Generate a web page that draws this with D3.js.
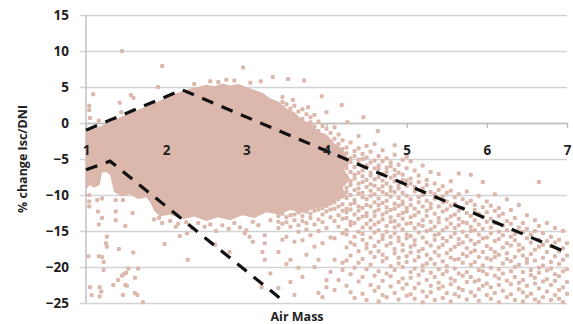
<!DOCTYPE html>
<html>
<head>
<meta charset="utf-8">
<script src="https://cdn.jsdelivr.net/npm/d3@7"></script>
<style>
  body { margin: 0; background: #fff; }
  svg { display: block; }
  text { font-family: "Open Sans", sans-serif; font-weight: 700; fill: #222; }
</style>
</head>
<body>
<div id="chart"></div>
<script>
// axis ticks
const xTicks = [1, 2, 3, 4, 5, 6, 7];
const yTicks = [-25, -20, -15, -10, -5, 0, 5, 10, 15];

// dashed envelope lines
const upperLineAirMass = [1.0, 2.2, 7.0];
const upperLineChange = [-1.0, 4.6, -18.0];
const lowerLineAirMass = [1.0, 1.3, 3.45];
const lowerLineChange = [-6.5, -5.3, -24.6];

// outline of the saturated part of the cloud (points overlap into a solid blob)
const coreAirMass = [1.0, 1.15, 1.3, 1.45, 1.6, 1.75, 1.9, 2.05, 2.2, 2.3, 2.4, 2.5, 2.6, 2.7, 2.8, 2.9, 3.0, 3.1, 3.2,
  3.3, 3.4, 3.5, 3.6, 3.7, 3.8, 3.9, 4.0, 4.1, 4.2, 4.28, 4.22, 4.3, 4.2, 4.25, 4.1, 4.0,
  3.85, 3.7, 3.55, 3.4, 3.25, 3.1, 2.95, 2.8, 2.65, 2.5, 2.35, 2.2, 2.05, 1.92, 1.85, 1.8, 1.75, 1.65, 1.55,
  1.45, 1.35, 1.3, 1.25, 1.2, 1.17, 1.1, 1.05, 1.0];
const coreChange = [-1.3, -0.6, 0.1, 0.9, 1.6, 2.3, 3.0, 3.8, 4.4, 4.8, 5.0, 5.3, 5.1, 5.5, 5.2, 5.4, 5.0, 4.6, 4.2,
  3.4, 3.0, 2.0, 1.5, 0.4, 0.0, -1.2, -1.6, -2.8, -3.6, -5.2, -6.5, -7.8, -9.0, -10.0, -10.9, -11.6,
  -11.9, -12.5, -12.1, -12.7, -12.4, -13.2, -12.8, -13.5, -13.1, -13.6, -13.0, -13.4, -12.7, -13.0, -12.2, -11.0, -10.3, -10.6, -9.9,
  -10.2, -9.6, -7.2, -6.8, -6.9, -8.6, -9.0, -8.6, -9.2];

// isolated points around the core  [air mass, % change]
const sparsePoints = [
  [1.04, 2.4], [1.04, 1.8], [1.05, 0.7], [1.09, 4.0], [1.16, 0.3], [1.42, 2.8], [1.44, 1.5], [1.45, 10.0],
  [1.56, 3.9], [1.59, 3.5], [1.9, 5.0], [1.95, 7.9], [2.96, 7.7], [3.18, 5.8], [3.33, 6.4], [3.52, 6.1],
  [3.72, 5.9], [3.94, 3.7], [4.19, 2.5], [4.0, 1.5], [3.77, 2.2], [3.58, 3.2], [3.45, 3.6], [4.26, 0.1],
  [4.46, 0.8], [4.64, -1.1], [4.85, -3.1], [2.35, 5.4], [2.55, 5.8], [2.75, 6.0], [2.65, 5.7], [3.05, 5.6],
  [2.85, 5.9],
  [1.04, -10.0], [1.04, -10.9], [1.04, -11.6], [1.14, -10.7], [1.2, -10.5], [1.15, -12.3], [1.2, -13.2],
  [1.16, -14.1], [1.26, -15.8], [1.25, -16.7], [1.26, -17.2], [1.03, -18.5], [1.16, -18.5], [1.2, -18.6],
  [1.22, -19.3], [1.22, -20.4], [1.17, -22.8], [1.19, -23.4], [1.17, -24.1], [1.37, -10.7], [1.46, -10.7],
  [1.37, -12.3], [1.37, -13.5], [1.49, -14.3], [1.58, -12.5], [1.41, -17.5], [1.59, -18.0], [1.53, -20.2],
  [1.65, -20.2], [1.47, -21.0], [1.45, -21.2], [1.4, -21.8], [1.5, -20.8], [1.61, -21.5], [1.49, -22.5],
  [1.61, -23.6], [1.71, -24.9], [1.98, -16.8], [2.12, -14.4], [2.17, -15.7], [2.27, -19.0], [1.91, -13.2],
  [1.51, -22.6], [1.64, -23.9], [1.05, -22.8], [1.07, -23.9], [1.34, -22.5], [1.46, -23.9],
  [1.85, -13.4], [1.95, -13.9], [2.05, -13.6], [2.15, -14.0], [2.25, -13.8], [2.32, -14.6], [2.4, -13.9],
  [2.48, -14.4], [2.55, -14.1], [2.62, -15.0], [2.7, -14.2], [2.78, -14.7], [2.85, -13.9], [2.92, -14.5],
  [3.0, -14.9], [3.08, -13.7], [3.15, -14.2], [3.3, -13.5], [2.26, -15.3], [2.61, -16.9], [2.79, -17.9],
  [2.98, -15.3], [3.08, -16.5], [3.23, -15.6], [3.23, -16.7], [3.2, -17.9], [3.23, -19.0], [3.04, -15.8],
  [3.19, -22.8], [3.3, -20.9]
];

// main cloud to the right, one column per 0.05 of air mass
const cloudAirMass = [3.40, 3.45, 3.50, 3.55, 3.60, 3.65, 3.70, 3.75, 3.80, 3.85, 3.90, 3.95, 4.00, 4.05, 4.10, 4.15, 4.20,
  4.25, 4.30, 4.35, 4.40, 4.45, 4.50, 4.55, 4.60, 4.65, 4.70, 4.75, 4.80, 4.85, 4.90, 4.95, 5.00,
  5.05, 5.10, 5.15, 5.20, 5.25, 5.30, 5.35, 5.40, 5.45, 5.50, 5.55, 5.60, 5.65, 5.70, 5.75, 5.80, 5.85, 5.90, 5.95, 6.00,
  6.05, 6.10, 6.15, 6.20, 6.25, 6.30, 6.35, 6.40, 6.45, 6.50, 6.55, 6.60, 6.65, 6.70, 6.75, 6.80, 6.85, 6.90, 6.95, 7.00];
const cloudChange = [
  [-12.9, -13.7, -14.6, -17.9, -22.9],
  [2.9, 2.2, -12.6, -14.0, -16.2],
  [2.6, -13.1, -13.8, -15.8, -19.6],
  [2.0, 1.3, -12.8, -14.4, -19.0, -22.1],
  [2.4, 0.9, -12.7, -13.5, -16.5, -23.9],
  [1.6, 0.4, -12.4, -14.2, -15.1, -20.1],
  [1.9, 0.6, -0.3, -12.9, -13.6, -21.4, -16.3],
  [1.2, -0.6, -12.3, -13.9, -14.8, -18.3],
  [0.8, 0.1, -1.0, -12.6, -13.2, -15.6],
  [1.1, -0.5, -1.4, -12.2, -14.1, -20.0, -17.2],
  [0.2, -1.1, -2.0, -12.0, -13.4, -15.0, -19.0, -23.6],
  [-0.4, -1.7, -2.5, -11.8, -12.7, -13.8, -16.7, -24.2],
  [-0.8, -2.1, -2.9, -11.5, -12.3, -14.6, -21.8, -22.8],
  [-1.4, -2.6, -3.5, -11.2, -12.0, -13.1, -15.9, -20.7],
  [-0.6, -2.2, -3.3, -4.0, -11.0, -11.9, -13.6, -16.0, -19.0, -23.2],
  [-1.6, -2.9, -4.2, -10.6, -11.6, -12.8, -14.4, -21.8],
  [-2.4, -3.6, -4.7, -10.2, -11.3, -12.2, -13.3, -15.3, -19.4, -20.4],
  [-3.4, -4.2, -5.8, -6.3, -7.5, -9.0, -9.6, -10.4, -11.9, -12.4, -13.2, -14.9, -15.5, -17.3, -19.1, -22.6],
  [-2.7, -4.9, -5.4, -6.8, -8.1, -8.6, -10.0, -11.3, -12.0, -13.7, -14.2, -16.6, -18.4, -21.0, -23.5],
  [-3.9, -4.6, -6.1, -7.2, -7.7, -9.3, -10.7, -11.1, -12.7, -13.9, -15.8, -16.9, -20.1, -24.3],
  [-1.8, -3.5, -5.1, -5.6, -6.9, -8.4, -9.1, -9.8, -11.6, -12.2, -13.3, -15.1, -17.8, -19.4, -22.0],
  [-4.3, -5.0, -6.6, -7.4, -8.2, -9.7, -10.3, -11.8, -13.0, -14.5, -15.4, -16.2, -18.9, -21.4, -23.7],
  [-3.2, -4.8, -5.9, -6.1, -7.9, -8.9, -10.6, -11.4, -12.5, -12.9, -14.0, -16.8, -17.4, -20.3, -24.6],
  [-4.0, -5.5, -6.9, -7.3, -8.5, -9.4, -10.1, -11.6, -13.5, -14.6, -15.9, -18.0, -19.7, -22.5],
  [-2.9, -5.2, -6.3, -7.8, -8.7, -9.9, -11.0, -12.3, -12.9, -14.1, -15.2, -17.1, -18.6, -21.2, -23.3],
  [-4.6, -5.9, -6.4, -7.5, -9.2, -10.5, -11.4, -12.0, -13.8, -14.9, -16.5, -17.8, -20.6, -22.8, -24.8],
  [-3.8, -5.3, -7.1, -8.0, -8.8, -9.6, -11.1, -12.7, -13.4, -15.6, -16.1, -18.3, -19.2, -21.9, -23.9],
  [-4.9, -6.2, -6.8, -8.4, -9.9, -10.8, -11.7, -12.4, -14.3, -15.1, -17.0, -18.8, -20.9, -24.2],
  [-5.5, -6.0, -7.6, -8.9, -9.4, -10.2, -12.1, -13.1, -13.7, -15.8, -16.7, -19.9, -21.3, -22.7],
  [-4.4, -6.5, -7.3, -8.1, -9.6, -11.2, -11.9, -13.6, -14.5, -15.3, -17.5, -18.1, -20.4, -23.6],
  [-5.8, -6.9, -8.6, -9.1, -10.4, -11.5, -12.8, -14.2, -15.9, -16.4, -18.7, -19.5, -22.1, -24.5],
  [-5.1, -7.2, -7.9, -9.7, -10.9, -11.3, -12.5, -13.3, -14.8, -16.9, -17.7, -20.0, -21.6, -23.0],
  [-4.7, -6.3, -8.0, -8.7, -10.1, -11.8, -12.3, -14.0, -15.5, -16.0, -18.5, -19.3, -22.4, -24.0],
  [-5.3, -7.7, -8.4, -10.6, -11.4, -13.1, -13.9, -15.7, -17.2, -18.0, -20.7, -21.5, -23.8],
  [-6.6, -8.9, -9.5, -11.9, -12.8, -14.6, -16.3, -16.9, -19.1, -20.2, -22.9, -24.4],
  [-7.3, -8.2, -10.3, -11.0, -12.4, -14.1, -15.2, -17.8, -18.6, -21.1, -22.3],
  [-5.9, -9.1, -10.0, -11.6, -13.5, -14.3, -15.9, -17.5, -19.8, -20.5, -23.4, -24.9],
  [-7.9, -8.6, -10.8, -12.2, -12.9, -15.0, -16.6, -18.3, -19.5, -21.8, -24.1],
  [-6.8, -9.6, -11.2, -11.8, -13.7, -14.8, -17.0, -18.9, -20.8, -22.6, -23.5],
  [-8.4, -9.9, -10.5, -12.6, -14.4, -15.6, -16.2, -17.9, -19.6, -21.4, -24.6],
  [-7.1, -9.3, -11.6, -13.2, -13.8, -15.4, -17.3, -18.4, -20.3, -22.2, -23.0],
  [-8.8, -10.2, -11.0, -12.3, -14.9, -16.0, -16.9, -19.2, -21.0, -22.7, -24.3],
  [-9.7, -10.9, -12.0, -13.4, -14.5, -16.4, -18.1, -19.9, -20.6, -23.6],
  [-8.1, -9.4, -11.5, -13.0, -14.0, -15.8, -17.6, -18.7, -21.6, -22.4, -24.8],
  [-10.3, -11.2, -12.7, -14.6, -15.3, -17.2, -19.0, -20.2, -21.9, -23.8],
  [-7.0, -9.9, -12.2, -13.3, -14.2, -16.1, -16.8, -18.9, -20.9, -22.9, -24.1],
  [-10.6, -11.8, -13.8, -15.1, -16.6, -18.2, -19.4, -21.2, -23.2],
  [-9.5, -11.1, -12.5, -13.9, -15.7, -17.4, -18.5, -20.7, -22.1, -24.5],
  [-7.2, -10.8, -12.9, -14.4, -15.0, -16.3, -18.0, -19.7, -21.4, -23.5],
  [-11.4, -12.1, -13.5, -14.9, -16.8, -17.7, -19.3, -22.0, -24.0],
  [-10.1, -12.6, -14.1, -15.5, -16.5, -18.6, -20.4, -21.8, -23.1, -24.7],
  [-8.2, -11.7, -13.1, -14.7, -16.0, -17.9, -19.8, -20.6, -22.6],
  [-10.9, -12.4, -13.7, -15.9, -17.1, -18.8, -21.0, -22.3, -23.9],
  [-11.5, -13.3, -14.5, -15.3, -17.5, -19.0, -20.1, -22.8, -24.4],
  [-9.9, -12.2, -13.9, -16.4, -17.9, -18.6, -21.2, -23.6],
  [-11.8, -12.9, -15.1, -16.1, -18.3, -20.3, -21.6, -22.5, -24.9],
  [-12.6, -14.2, -15.6, -17.3, -19.5, -20.9, -23.3],
  [-10.6, -13.6, -14.9, -16.7, -18.1, -18.9, -21.9, -24.2],
  [-12.1, -14.0, -15.8, -17.0, -19.2, -20.6, -22.4, -23.8],
  [-13.2, -15.4, -16.3, -18.6, -20.0, -21.4, -24.6],
  [-11.4, -14.5, -16.9, -17.7, -19.7, -22.2, -23.1],
  [-13.9, -15.1, -17.4, -18.4, -20.7, -21.8, -23.5, -24.8],
  [-12.8, -14.7, -16.0, -18.9, -19.4, -22.6, -24.1],
  [-15.5, -16.6, -18.2, -20.4, -21.1, -23.7],
  [-13.5, -15.0, -17.6, -19.1, -21.5, -22.3, -24.5],
  [-8.2, -14.3, -16.2, -17.2, -20.1, -20.8, -23.0, -24.9],
  [-15.3, -16.9, -18.7, -19.8, -22.0, -24.2],
  [-13.9, -16.4, -17.9, -20.5, -21.7, -23.4],
  [-15.8, -17.1, -19.3, -20.2, -22.5, -24.6],
  [-14.6, -16.6, -18.5, -21.0, -21.9, -23.9],
  [-16.2, -17.8, -19.6, -21.3, -23.2, -24.4],
  [-15.0, -17.4, -19.0, -20.6, -22.8, -24.9],
  [-16.7, -18.4, -20.3, -22.1, -23.7]
];

const W = 573, H = 324;
const margin = { top: 15, right: 6, bottom: 21, left: 86 };
const pointColor = '#dcb7ac';
const gridColor = '#d3d3d3';

const svg = d3.select('#chart').append('svg')
  .attr('width', W)
  .attr('height', H);

const x = d3.scaleLinear().domain([1, 7]).range([margin.left, W - margin.right]);
const y = d3.scaleLinear().domain([-25, 15]).range([H - margin.bottom, margin.top]);

// horizontal gridlines (with the small tick stub left of the axis)
const grid = svg.append('g')
  .attr('transform', `translate(${margin.left - 6},0)`)
  .call(d3.axisLeft(y).tickValues(yTicks).tickSizeInner(-(W - margin.right - margin.left + 6)).tickSizeOuter(0).tickFormat(''));
grid.select('.domain').remove();
grid.selectAll('line').attr('stroke', gridColor).attr('stroke-width', 1.4);

// x axis through zero, ticks pointing down
const xAxis = svg.append('g')
  .attr('transform', `translate(0,${y(0)})`)
  .call(d3.axisBottom(x).tickValues(xTicks).tickSizeInner(5).tickSizeOuter(0).tickFormat(''));
xAxis.selectAll('path, line').attr('stroke', '#bdbdbd').attr('stroke-width', 1.4);

// vertical axis
svg.append('line')
  .attr('x1', x(1)).attr('x2', x(1))
  .attr('y1', y(15)).attr('y2', y(-25))
  .attr('stroke', '#bdbdbd')
  .attr('stroke-width', 1.4);

// saturated core
const outline = d3.line().x(d => x(d[0])).y(d => y(d[1])).curve(d3.curveLinearClosed);
svg.append('path')
  .attr('d', outline(coreAirMass.map((a, i) => [a, coreChange[i]])))
  .attr('fill', pointColor);

// flatten all points
const points = sparsePoints.slice();
cloudAirMass.forEach((a, i) => cloudChange[i].forEach(c => points.push([a, c])));

svg.append('g')
  .selectAll('rect')
  .data(points)
  .join('rect')
  .attr('x', d => x(d[0]) - 2)
  .attr('y', d => y(d[1]) - 2)
  .attr('width', 4)
  .attr('height', 4)
  .attr('rx', 1)
  .attr('fill', pointColor);

// dashed envelope lines
const envLine = d3.line().x(d => x(d[0])).y(d => y(d[1]));
[[upperLineAirMass, upperLineChange], [lowerLineAirMass, lowerLineChange]].forEach(([am, ch]) => {
  svg.append('path')
    .attr('d', envLine(am.map((a, i) => [a, ch[i]])))
    .attr('fill', 'none')
    .attr('stroke', '#111')
    .attr('stroke-width', 3.2)
    .attr('stroke-dasharray', '12,9');
});

// tick labels on top of the data
const yLabels = svg.append('g')
  .attr('transform', `translate(${margin.left - 6},0)`)
  .call(d3.axisLeft(y).tickValues(yTicks).tickSize(0).tickPadding(11));
yLabels.select('.domain').remove();
yLabels.selectAll('text').attr('font-size', 13.5).attr('fill', '#222');

const xLabels = svg.append('g')
  .attr('transform', `translate(0,${y(0)})`)
  .call(d3.axisBottom(x).tickValues(xTicks).tickSize(0).tickPadding(22).tickFormat(d3.format('d')));
xLabels.select('.domain').remove();
xLabels.selectAll('text').attr('font-size', 13.5).attr('fill', '#222');

// axis titles
svg.append('text')
  .attr('transform', `translate(23,${(y(15) + y(-25)) / 2}) rotate(-90)`)
  .attr('text-anchor', 'middle')
  .attr('dy', '0.35em')
  .attr('font-size', 12.5)
  .text('% change Isc/DNI');

svg.append('text')
  .attr('x', 297)
  .attr('y', 321)
  .attr('text-anchor', 'middle')
  .attr('font-size', 12.5)
  .text('Air Mass');
</script>
</body>
</html>
